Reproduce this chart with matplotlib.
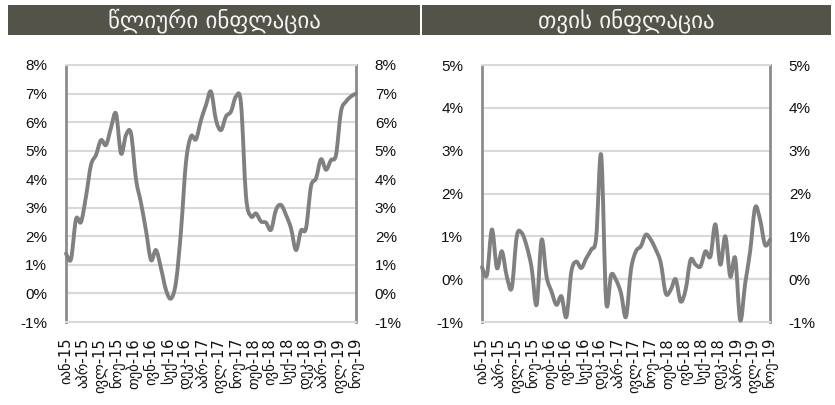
import numpy as np
import matplotlib
matplotlib.use("Agg")
import matplotlib.pyplot as plt
from matplotlib.ticker import FuncFormatter, MultipleLocator
from matplotlib.patches import Rectangle, PathPatch
from matplotlib.path import Path

plt.rcParams['font.family'] = ['Liberation Sans', 'DejaVu Sans']

# monthly data, Jan 2015 .. Nov 2019 (percent)
annual = [1.4, 1.2, 2.6, 2.5, 3.4, 4.5, 4.85, 5.37, 5.2, 5.8,
          6.3, 4.9, 5.55, 5.6, 4.0, 3.17, 2.2, 1.17, 1.52, 0.88,
          0.12, -0.18, 0.4, 2.2, 4.6, 5.5, 5.4, 6.07, 6.6, 7.07,
          6.07, 5.72, 6.2, 6.37, 6.9, 6.65, 3.4, 2.7, 2.8, 2.52,
          2.48, 2.23, 2.93, 3.1, 2.75, 2.28, 1.52, 2.2, 2.28, 3.75,
          4.03, 4.7, 4.33, 4.67, 4.85, 6.37, 6.72, 6.9, 7.0]

monthly = [0.28, 0.1, 1.16, 0.26, 0.65, 0.06, -0.2, 1.0, 1.08, 0.77,
           0.26, -0.6, 0.92, 0.06, -0.29, -0.6, -0.4, -0.88, 0.18, 0.41,
           0.26, 0.49, 0.69, 0.98, 2.9, -0.52, 0.1, -0.02, -0.33, -0.88,
           0.22, 0.65, 0.77, 1.04, 0.92, 0.69, 0.38, -0.33, -0.25, 0.0,
           -0.52, -0.25, 0.45, 0.34, 0.3, 0.65, 0.53, 1.28, 0.34, 1.0,
           0.06, 0.49, -0.96, -0.1, 0.65, 1.67, 1.39, 0.8, 0.92]

tick_labels = ['იან-15', 'აპრ-15', 'ივლ-15', 'ნოე-15', 'თებ-16', 'ივნ-16',
               'სექ-16', 'დეკ-16', 'აპრ-17', 'ივლ-17', 'ნოე-17', 'თებ-18',
               'ივნ-18', 'სექ-18', 'დეკ-18', 'აპრ-19', 'ივლ-19', 'ნოე-19']

titles = ['წლიური ინფლაცია', 'თვის ინფლაცია']

W, H = 835, 405
fig = plt.figure(figsize=(W / 100, H / 100), dpi=100)

line_col = '#808080'
grid_col = '#d9d9d9'
axis_col = '#8c8c8c'
bar_col = '#54534a'


def smooth_path(x, y):
    # Excel-like smoothed line: cubic bezier segments through the data points
    pts = np.column_stack([x, y]).astype(float)
    verts = [pts[0]]
    codes = [Path.MOVETO]
    n = len(pts)
    for i in range(n - 1):
        p0 = pts[max(i - 1, 0)]
        p1 = pts[i]
        p2 = pts[i + 1]
        p3 = pts[min(i + 2, n - 1)]
        c1 = p1 + (p2 - p0) / 6
        c2 = p2 - (p3 - p1) / 6
        verts += [c1, c2, p2]
        codes += [Path.CURVE4] * 3
    return Path(verts, codes)


def draw_panel(rect, values, ymin, ymax):
    ax = fig.add_axes(rect)
    x = np.arange(len(values))
    ax.set_xlim(0, len(values) - 1)
    ax.set_ylim(ymin, ymax)
    ax.yaxis.set_major_locator(MultipleLocator(1))
    ax.yaxis.set_major_formatter(FuncFormatter(lambda v, p: f"{int(round(v))}%"))
    ax.grid(axis='y', color=grid_col, linewidth=1.5, zorder=0)
    ax.axhline(0, color=axis_col, linewidth=1.5, zorder=1)
    for s in ['top', 'bottom']:
        ax.spines[s].set_color(grid_col)
        ax.spines[s].set_linewidth(1.5)
    for s in ['left', 'right']:
        ax.spines[s].set_color(axis_col)
        ax.spines[s].set_linewidth(2)
    ax.add_patch(PathPatch(smooth_path(x, values), facecolor='none',
                           edgecolor=line_col, linewidth=2.8, joinstyle='round',
                           capstyle='round', zorder=3, clip_on=False))
    ax.tick_params(axis='y', left=False, right=False, labelleft=True,
                   labelright=True, labelsize=11, pad=10, labelcolor='#111111')
    ax.set_xticks(np.linspace(0, len(values) - 1, len(tick_labels)))
    ax.set_xticklabels(tick_labels, rotation=90, fontsize=10.5,
                       family=['DejaVu Sans'], color='#111111')
    ax.tick_params(axis='x', bottom=False, pad=8)
    return ax


draw_panel([66 / W, 1 - 322 / H, 290 / W, 257 / H], annual, -1, 8)
draw_panel([482 / W, 1 - 322 / H, 288 / W, 257 / H], monthly, -1, 5)

# title bars
for (x0, x1), title in zip([(8, 420), (422, 831)], titles):
    fig.patches.append(Rectangle((x0 / W, 1 - 35 / H), (x1 - x0) / W, 30 / H,
                                 transform=fig.transFigure, facecolor=bar_col,
                                 edgecolor='none'))
    fig.text((x0 + x1) / 2 / W, 1 - 21 / H, title, ha='center', va='center',
             fontsize=16.5, color='#f4f4f4', family=['DejaVu Sans'])

fig.savefig('out.png', dpi=100)
